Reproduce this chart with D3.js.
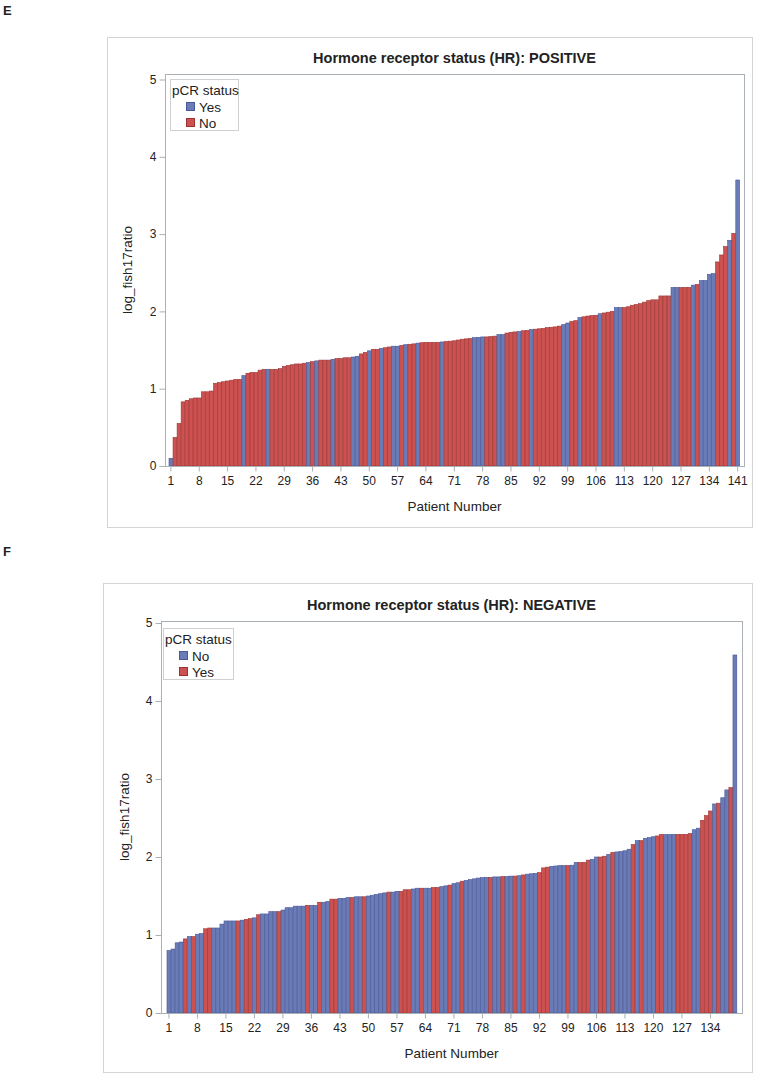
<!DOCTYPE html>
<html lang="en">
<head>
<meta charset="UTF-8">
<title>log_fish17ratio by patient, HR positive / negative</title>
<script src="https://cdn.jsdelivr.net/npm/d3@7/dist/d3.min.js"></script>
<style>
  body { margin: 0; background: #fff; }
  svg text { font-family: "Liberation Sans", Arial, sans-serif; fill: #222; }
</style>
</head>
<body>
<script>
// ---- data: panel E, HR positive (141 patients, sorted by ratio) ----
var posValues = [
  0.10, 0.37, 0.55, 0.83, 0.85, 0.87, 0.88, 0.88, 0.96, 0.96,
  0.97, 1.07, 1.08, 1.09, 1.10, 1.11, 1.12, 1.12, 1.17, 1.20,
  1.21, 1.21, 1.24, 1.25, 1.25, 1.25, 1.25, 1.26, 1.29, 1.30,
  1.31, 1.32, 1.32, 1.33, 1.34, 1.35, 1.36, 1.37, 1.37, 1.37,
  1.38, 1.39, 1.39, 1.40, 1.40, 1.41, 1.42, 1.45, 1.47, 1.49,
  1.51, 1.51, 1.52, 1.53, 1.54, 1.55, 1.55, 1.56, 1.57, 1.575,
  1.58, 1.59, 1.595, 1.60, 1.60, 1.60, 1.60, 1.605, 1.61, 1.615,
  1.62, 1.63, 1.64, 1.645, 1.65, 1.66, 1.665, 1.67, 1.67, 1.675,
  1.68, 1.70, 1.70, 1.72, 1.73, 1.735, 1.74, 1.75, 1.755, 1.765,
  1.77, 1.775, 1.78, 1.79, 1.795, 1.80, 1.81, 1.83, 1.85, 1.87,
  1.88, 1.92, 1.93, 1.94, 1.945, 1.95, 1.97, 1.98, 1.99, 2.00,
  2.05, 2.05, 2.05, 2.06, 2.08, 2.09, 2.10, 2.12, 2.14, 2.15,
  2.15, 2.20, 2.20, 2.20, 2.31, 2.31, 2.31, 2.31, 2.31, 2.34,
  2.35, 2.40, 2.40, 2.48, 2.49, 2.64, 2.73, 2.84, 2.92, 3.01,
  3.70
];
// pCR status per bar: Y = Yes, N = No
var posStatus = [
  'Y','N','N','N','N','N','N','N','N','N',
  'N','N','N','N','N','N','N','N','Y','N',
  'N','N','N','N','Y','N','N','N','N','N',
  'N','N','N','N','Y','N','Y','N','N','N',
  'Y','N','N','N','N','Y','Y','N','N','Y',
  'N','N','Y','N','N','Y','Y','N','Y','N',
  'N','Y','N','N','N','N','N','Y','N','N',
  'N','N','N','N','N','Y','Y','Y','N','N',
  'N','Y','Y','N','N','N','Y','N','N','Y',
  'N','N','N','N','N','N','N','Y','Y','N',
  'N','Y','N','N','N','N','Y','N','N','N',
  'Y','Y','N','N','N','N','N','N','N','N',
  'N','N','N','N','Y','Y','N','N','N','Y',
  'N','Y','Y','Y','Y','N','N','N','Y','N',
  'Y'
];
var posLegend = ['Yes', 'No'];   // first entry drawn blue, second red

// ---- data: panel F, HR negative (140 patients) ----
var negValues = [
  0.80, 0.82, 0.90, 0.91, 0.95, 0.98, 0.98, 1.01, 1.02, 1.08,
  1.09, 1.09, 1.09, 1.14, 1.18, 1.18, 1.18, 1.18, 1.19, 1.20,
  1.21, 1.22, 1.26, 1.27, 1.27, 1.30, 1.30, 1.30, 1.32, 1.35,
  1.35, 1.37, 1.37, 1.37, 1.38, 1.38, 1.38, 1.42, 1.42, 1.43,
  1.46, 1.46, 1.47, 1.47, 1.48, 1.48, 1.49, 1.49, 1.49, 1.50,
  1.51, 1.52, 1.53, 1.54, 1.55, 1.55, 1.56, 1.56, 1.58, 1.58,
  1.59, 1.60, 1.60, 1.60, 1.60, 1.61, 1.61, 1.62, 1.63, 1.64,
  1.66, 1.67, 1.69, 1.70, 1.71, 1.72, 1.73, 1.735, 1.74, 1.74,
  1.745, 1.745, 1.75, 1.75, 1.755, 1.755, 1.76, 1.77, 1.78, 1.785,
  1.79, 1.80, 1.86, 1.87, 1.88, 1.885, 1.89, 1.89, 1.89, 1.895,
  1.93, 1.93, 1.93, 1.96, 1.97, 2.00, 2.00, 2.01, 2.035, 2.06,
  2.065, 2.07, 2.08, 2.10, 2.16, 2.21, 2.21, 2.24, 2.25, 2.26,
  2.27, 2.29, 2.29, 2.29, 2.29, 2.29, 2.29, 2.29, 2.30, 2.35,
  2.37, 2.47, 2.53, 2.59, 2.68, 2.69, 2.76, 2.86, 2.89, 4.59
];
var negStatus = [
  'N','N','N','N','Y','N','Y','N','N','Y',
  'Y','N','N','N','N','N','N','Y','N','Y',
  'Y','N','Y','N','N','N','N','Y','N','N',
  'N','N','N','N','Y','N','N','Y','N','N',
  'Y','Y','N','N','N','Y','N','N','Y','N',
  'N','N','N','N','Y','N','N','Y','Y','Y',
  'N','N','Y','N','N','Y','Y','N','N','Y',
  'N','N','Y','N','N','N','N','N','N','Y',
  'N','N','Y','N','N','Y','N','Y','N','N',
  'N','Y','Y','Y','N','N','N','N','Y','N',
  'N','Y','Y','Y','N','N','Y','Y','N','Y',
  'N','N','N','N','Y','N','Y','N','N','N',
  'Y','Y','N','N','N','Y','Y','Y','Y','N',
  'N','Y','Y','Y','N','Y','N','N','Y','N'
];
var negLegend = ['No', 'Yes'];

var statusNames = { Y: 'Yes', N: 'No' };
var yTicks = [0, 1, 2, 3, 4, 5];
var posXTicks = d3.range(1, 142, 7);   // 1, 8, ... 141
var negXTicks = d3.range(1, 135, 7);   // 1, 8, ... 134

// ---- drawing ----
var w = 761, h = 1076;
var fills = ['#6b7bb6', '#cb5250'];
var edges = ['#46579a', '#9d3331'];

var svg = d3.select('body').append('svg')
    .attr('width', w)
    .attr('height', h);

function drawPanel(p) {
    var g = svg.append('g');

    g.append('text')
        .attr('x', 3).attr('y', p.letterY)
        .style('font-size', '13px').style('font-weight', 'bold')
        .text(p.letter);

    // outer graph border
    g.append('rect')
        .attr('x', p.box[0] + 0.5).attr('y', p.box[1] + 0.5)
        .attr('width', p.box[2]).attr('height', p.box[3])
        .attr('fill', 'none').attr('stroke', '#d4d4d4');

    var cx = (p.frame[0] + p.frame[2]) / 2;
    g.append('text')
        .attr('x', cx).attr('y', p.frame[1] - 11)
        .attr('text-anchor', 'middle')
        .style('font-size', '14.5px').style('font-weight', 'bold')
        .text(p.title);

    var data = p.values.map(function(v, i) {
        return { n: i + 1, v: v, s: statusNames[p.status[i]] };
    });

    var x = d3.scaleBand()
        .domain(data.map(function(d) { return d.n; }))
        .range(p.xRange)
        .paddingInner(0.06);

    var y = d3.scaleLinear()
        .domain([0, 5])
        .range([p.y0, p.y5]);

    var color = d3.scaleOrdinal().domain(p.legend).range(fills);
    var edge = d3.scaleOrdinal().domain(p.legend).range(edges);

    g.append('g')
        .selectAll('rect')
        .data(data)
        .enter()
        .append('rect')
        .attr('x', function(d) { return x(d.n); })
        .attr('y', function(d) { return y(d.v); })
        .attr('width', x.bandwidth())
        .attr('height', function(d) { return y(0) - y(d.v); })
        .attr('fill', function(d) { return color(d.s); })
        .attr('stroke', function(d) { return edge(d.s); })
        .attr('stroke-width', 0.6);

    // plot frame
    g.append('rect')
        .attr('x', p.frame[0] + 0.5).attr('y', p.frame[1] + 0.5)
        .attr('width', p.frame[2] - p.frame[0]).attr('height', p.frame[3] - p.frame[1])
        .attr('fill', 'none').attr('stroke', '#a9b0b6');

    // y axis
    var yAxis = d3.axisLeft(y).tickValues(yTicks).tickFormat(d3.format('d'))
        .tickSize(6).tickPadding(3);
    var ya = g.append('g')
        .attr('transform', 'translate(' + (p.frame[0] + 0.5) + ',0)')
        .call(yAxis);
    ya.select('.domain').remove();
    ya.selectAll('line').attr('stroke', '#a9b0b6');
    ya.selectAll('text').style('font-size', '12px').style('font-family', null);

    // x axis
    var xAxis = d3.axisBottom(x).tickValues(p.xTicks).tickSize(5).tickPadding(5);
    var xa = g.append('g')
        .attr('transform', 'translate(0,' + (p.frame[3] + 0.5) + ')')
        .call(xAxis);
    xa.select('.domain').remove();
    xa.selectAll('line').attr('stroke', '#a9b0b6');
    xa.selectAll('text').style('font-size', '12px').style('font-family', null);

    g.append('text')
        .attr('x', cx).attr('y', p.frame[3] + 45)
        .attr('text-anchor', 'middle')
        .style('font-size', '13.5px')
        .text('Patient Number');

    g.append('text')
        .attr('transform', 'translate(' + p.yLabelX + ',' + ((p.frame[1] + p.frame[3]) / 2) + ') rotate(-90)')
        .attr('text-anchor', 'middle')
        .style('font-size', '13.5px')
        .text('log_fish17ratio');

    // legend
    var lg = g.append('g').attr('transform', 'translate(' + p.legendAt[0] + ',' + p.legendAt[1] + ')');
    lg.append('rect')
        .attr('x', 0.5).attr('y', 0.5)
        .attr('width', p.legendW).attr('height', 51)
        .attr('fill', '#fff').attr('stroke', '#d0d0d0');
    lg.append('text')
        .attr('x', 2).attr('y', 16)
        .style('font-size', '13.5px')
        .text('pCR status');
    p.legend.forEach(function(name, i) {
        lg.append('rect')
            .attr('x', 16.5).attr('y', 23.5 + i * 16)
            .attr('width', 8).attr('height', 8)
            .attr('fill', color(name)).attr('stroke', edge(name));
        lg.append('text')
            .attr('x', 29).attr('y', 32.5 + i * 16)
            .style('font-size', '13.5px')
            .text(name);
    });
}

drawPanel({
    letter: 'E', letterY: 15,
    title: 'Hormone receptor status (HR): POSITIVE',
    values: posValues, status: posStatus, legend: posLegend,
    xTicks: posXTicks,
    box: [107, 37, 645, 490],
    frame: [165, 74, 744, 466],
    xRange: [169, 739.6],
    y0: 466, y5: 79.5,
    yLabelX: 132,
    legendAt: [170, 79], legendW: 68
});

drawPanel({
    letter: 'F', letterY: 556,
    title: 'Hormone receptor status (HR): NEGATIVE',
    values: negValues, status: negStatus, legend: negLegend,
    xTicks: negXTicks,
    box: [103, 583, 649, 489],
    frame: [161, 621, 742, 1013],
    xRange: [167, 736.8],
    y0: 1013, y5: 623,
    yLabelX: 129,
    legendAt: [163, 628], legendW: 70
});
</script>
</body>
</html>
